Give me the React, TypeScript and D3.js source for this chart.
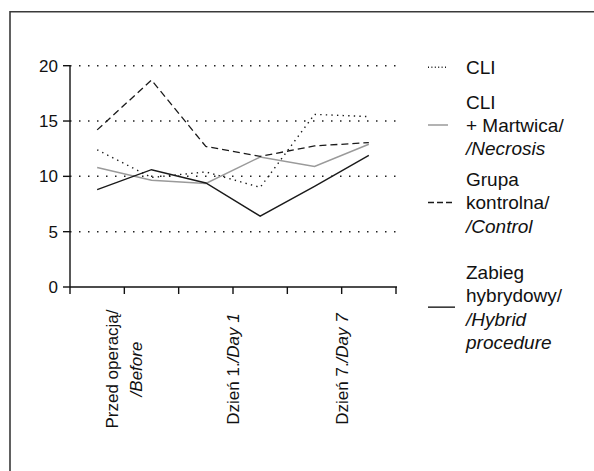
import React from "react";
import * as d3 from "d3";

// ---- data ----
const slots = [0, 1, 2, 3, 4, 5];
const yTicks = [0, 5, 10, 15, 20];
const gridValues = [5, 10, 15, 20];
const xTickPositions = [0, 1, 2, 3, 4, 5, 6];

const cliValues = [12.4, 9.9, 10.4, 9.0, 15.6, 15.4];
const necrosisValues = [10.8, 9.65, 9.35, 11.75, 10.9, 12.9];
const controlValues = [14.2, 18.7, 12.7, 11.8, 12.75, 13.05];
const hybridValues = [8.8, 10.6, 9.4, 6.4, 9.1, 11.9];

type Part = { t: string; i?: boolean };
const xLabels: { at: number; lines: Part[][] }[] = [
  { at: 1, lines: [[{ t: "Przed operacją/" }], [{ t: "/Before", i: true }]] },
  { at: 3, lines: [[{ t: "Dzień 1." }, { t: "/Day 1", i: true }]] },
  { at: 5, lines: [[{ t: "Dzień 7." }, { t: "/Day 7", i: true }]] },
];

const legendNames: Part[][][] = [
  [[{ t: "CLI" }]],
  [[{ t: "CLI" }], [{ t: "+ Martwica/" }], [{ t: "/Necrosis", i: true }]],
  [[{ t: "Grupa" }], [{ t: "kontrolna/" }], [{ t: "/Control", i: true }]],
  [[{ t: "Zabieg" }], [{ t: "hybrydowy/" }], [{ t: "/Hybrid", i: true }], [{ t: "procedure", i: true }]],
];

// ---- styles / layout ----
const FONT = "'Liberation Sans', Arial, Helvetica, sans-serif";
const seriesStyles = [
  { values: cliValues, color: "#1a1a1a", width: 1.4, dash: "1.4 4.2", legendDash: "1 2.4", legendLen: 20 },
  { values: necrosisValues, color: "#9a9a9a", width: 1.5, dash: "", legendDash: "", legendLen: 20 },
  { values: controlValues, color: "#1a1a1a", width: 1.3, dash: "7 4", legendDash: "6 3", legendLen: 24 },
  { values: hybridValues, color: "#1a1a1a", width: 1.4, dash: "", legendDash: "", legendLen: 27 },
];
const legendFirstBaselines = [74, 108.5, 186, 279];
const LEG_LINE_H = 23.3;
const LEG_FS = 19;

const W = 594;
const H = 471;
const X0 = 70;
const X1 = 396;
const Y0 = 287;
const Y1 = 65.7;

export default function App() {
  const x = d3.scaleLinear().domain([0, 6]).range([X0, X1]);
  const y = d3.scaleLinear().domain([0, 20]).range([Y0, Y1]);
  const line = d3
    .line<number>()
    .x((_, i) => x(slots[i] + 0.5))
    .y((d) => y(d));

  return (
    <svg
      width={W}
      height={H}
      style={{ position: "absolute", left: 0, top: 0, background: "#fff" }}
      fontFamily={FONT}
    >
      <rect x={0} y={0} width={W} height={H} fill="#fff" />
      {/* frame */}
      <path d={`M${W},11.7 H10 V${H}`} fill="none" stroke="#3a3a3a" strokeWidth={1.6} />

      {/* grid */}
      {gridValues.map((v) => (
        <line
          key={"g" + v}
          x1={X0}
          x2={X1 + 1}
          y1={y(v)}
          y2={y(v)}
          stroke="#222"
          strokeWidth={1.5}
          strokeDasharray="1.5 7.5"
        />
      ))}

      {/* y axis */}
      <line x1={X0} x2={X0} y1={Y1} y2={Y0} stroke="#111" strokeWidth={1.4} />
      {yTicks.map((v) => (
        <g key={"yt" + v}>
          <line x1={X0 - 7} x2={X0} y1={y(v)} y2={y(v)} stroke="#111" strokeWidth={1.4} />
          <text x={58} y={y(v) + 6} textAnchor="end" fontSize={17} fill="#111">
            {v}
          </text>
        </g>
      ))}

      {/* x axis */}
      <line x1={X0} x2={X1 + 1} y1={Y0} y2={Y0} stroke="#111" strokeWidth={1.4} />
      {xTickPositions.map((p) => (
        <line key={"xt" + p} x1={x(p)} x2={x(p)} y1={Y0} y2={Y0 + 7} stroke="#111" strokeWidth={1.4} />
      ))}
      {xLabels.map((lab, li) => {
        const n = lab.lines.length;
        const s = 24;
        return (
          <g key={"xl" + li} transform={`translate(${x(lab.at)},369) rotate(-90)`}>
            {lab.lines.map((ln, k) => (
              <text
                key={k}
                x={0}
                y={-((n - 1) * s) / 2 + k * s + 6}
                textAnchor="middle"
                fontSize={17}
                fill="#111"
              >
                {ln.map((p, j) => (
                  <tspan key={j} fontStyle={p.i ? "italic" : "normal"}>
                    {p.t}
                  </tspan>
                ))}
              </text>
            ))}
          </g>
        );
      })}

      {/* series */}
      {seriesStyles.map((s, i) => (
        <path
          key={"s" + i}
          d={line(s.values) || ""}
          fill="none"
          stroke={s.color}
          strokeWidth={s.width}
          strokeDasharray={s.dash || undefined}
        />
      ))}

      {/* legend */}
      {legendNames.map((lines, i) => {
        const b0 = legendFirstBaselines[i];
        const cy = b0 - 6.8 + ((lines.length - 1) * LEG_LINE_H) / 2;
        const st = seriesStyles[i];
        return (
          <g key={"l" + i}>
            <line
              x1={428}
              x2={428 + st.legendLen}
              y1={cy}
              y2={cy}
              stroke={st.color}
              strokeWidth={st.width}
              strokeDasharray={st.legendDash || undefined}
            />
            {lines.map((ln, k) => (
              <text key={k} x={466} y={b0 + k * LEG_LINE_H} fontSize={LEG_FS} fill="#111">
                {ln.map((p, j) => (
                  <tspan key={j} fontStyle={p.i ? "italic" : "normal"}>
                    {p.t}
                  </tspan>
                ))}
              </text>
            ))}
          </g>
        );
      })}
    </svg>
  );
}
